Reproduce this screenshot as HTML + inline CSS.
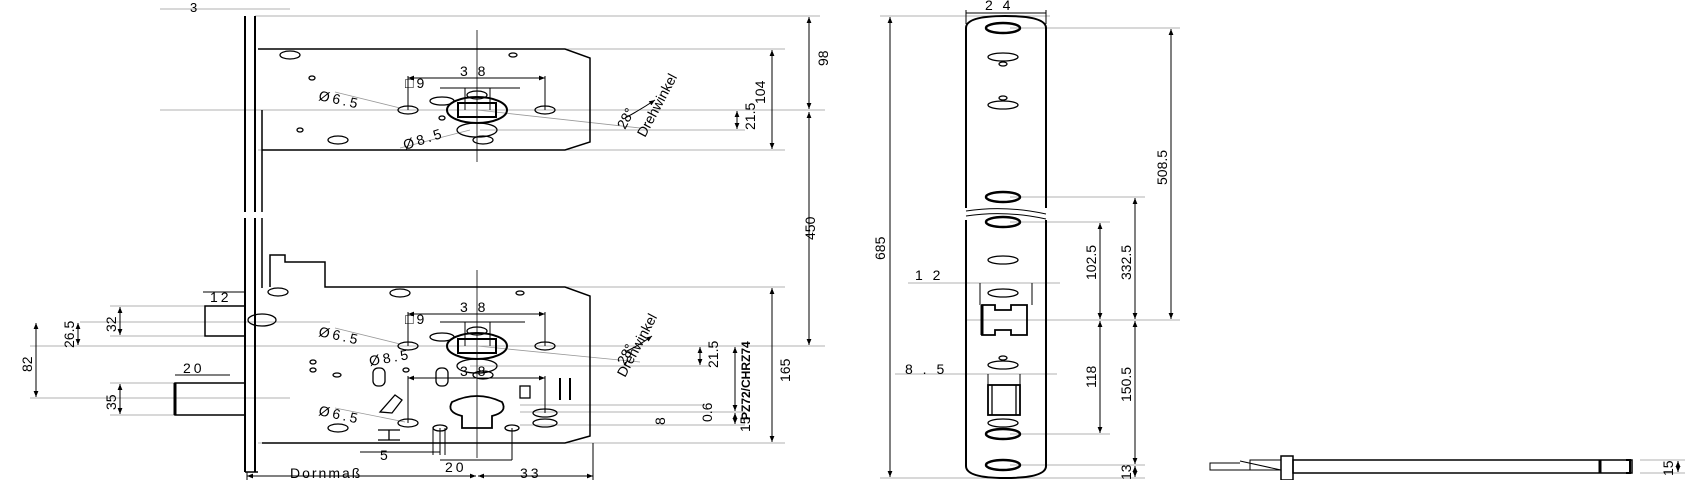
<!DOCTYPE html>
<html><head><meta charset="utf-8"><style>
html,body{margin:0;padding:0;background:#fff;width:1690px;height:480px;overflow:hidden}
svg{display:block}
text{font-family:"Liberation Sans",sans-serif;fill:#000}
</style></head><body>
<svg width="1690" height="480" viewBox="0 0 1690 480" xmlns="http://www.w3.org/2000/svg">
<defs>
<marker id="a" viewBox="0 0 10 10" refX="10" refY="5" markerWidth="6" markerHeight="6" orient="auto-start-reverse"><path d="M0,1 L10,5 L0,9z" fill="#000"/></marker>
</defs>
<g stroke="#000" fill="none">
<!-- thin guide lines -->
<g stroke="#999" stroke-width="0.8">
<line x1="255" y1="16" x2="820" y2="16"/>
<line x1="160" y1="9" x2="290" y2="9"/>
<line x1="258" y1="49" x2="785" y2="49"/>
<line x1="160" y1="110" x2="825" y2="110"/>
<line x1="480" y1="130" x2="745" y2="130"/>
<line x1="258" y1="150" x2="785" y2="150"/>
<line x1="330" y1="287" x2="785" y2="287"/>
<line x1="30" y1="346" x2="825" y2="346"/>
<line x1="470" y1="366" x2="710" y2="366"/>
<line x1="110" y1="306" x2="205" y2="306"/>
<line x1="110" y1="336" x2="205" y2="336"/>
<line x1="80" y1="322" x2="330" y2="322"/>
<line x1="30" y1="398" x2="290" y2="398"/>
<line x1="110" y1="383" x2="175" y2="383"/>
<line x1="110" y1="415" x2="175" y2="415"/>
<line x1="520" y1="405" x2="705" y2="405"/>
<line x1="520" y1="412" x2="745" y2="412"/>
<line x1="520" y1="425" x2="745" y2="425"/>
<line x1="258" y1="443" x2="785" y2="443"/>
<line x1="880" y1="16" x2="1050" y2="16"/>
<line x1="880" y1="478" x2="1145" y2="478"/>
<line x1="1010" y1="28" x2="1180" y2="28"/>
<line x1="1010" y1="197" x2="1145" y2="197"/>
<line x1="1010" y1="222" x2="1110" y2="222"/>
<line x1="966" y1="320" x2="1180" y2="320"/>
<line x1="1010" y1="434" x2="1110" y2="434"/>
<line x1="1010" y1="465" x2="1145" y2="465"/>
<line x1="908" y1="283" x2="1060" y2="283"/>
<line x1="895" y1="374" x2="1057" y2="374"/>
<line x1="1640" y1="460" x2="1685" y2="460"/>
<line x1="1640" y1="473" x2="1685" y2="473"/>
<line x1="477" y1="30" x2="477" y2="162" stroke="#000"/>
<line x1="477" y1="270" x2="477" y2="458" stroke="#000"/>
<line x1="477" y1="110" x2="640" y2="128"/>
<line x1="477" y1="346" x2="640" y2="362"/>
<line x1="335" y1="92" x2="400" y2="108"/>
<line x1="400" y1="148" x2="470" y2="130"/>
<line x1="335" y1="328" x2="400" y2="344"/>
<line x1="335" y1="408" x2="405" y2="422"/>
</g>
<!-- faceplate -->
<line x1="245" y1="16" x2="245" y2="212" stroke-width="2"/>
<line x1="255" y1="16" x2="255" y2="212" stroke-width="2"/>
<line x1="245" y1="218" x2="245" y2="472" stroke-width="2"/>
<line x1="255" y1="218" x2="255" y2="472" stroke-width="2"/>
<line x1="245" y1="472" x2="258" y2="472" stroke-width="1.5"/>
<line x1="262" y1="110" x2="262" y2="212" stroke-width="1.5"/>
<line x1="262" y1="218" x2="262" y2="288" stroke-width="1.5"/>
<!-- upper case -->
<path d="M258,49 H565 L590,58 V142 L565,150 H262" stroke-width="1.5"/>
<!-- lower case -->
<path d="M270,287 V255 H285 V262 H325 V287 H565 L590,296 V436 L565,443 H262" stroke-width="1.5"/>
<!-- latch & bolt -->
<path d="M245,306 H205 V336 H245" stroke-width="1.5"/>
<path d="M245,383 H175 V415 H245" stroke-width="1.5"/>
<line x1="175" y1="383" x2="175" y2="415" stroke-width="3"/>
<!-- upper holes -->
<g stroke-width="1.3">
<ellipse cx="290" cy="55" rx="10" ry="4"/><ellipse cx="338" cy="140" rx="10" ry="4"/>
<ellipse cx="312" cy="78" rx="3" ry="2"/><ellipse cx="300" cy="130" rx="3" ry="2"/><ellipse cx="513" cy="55" rx="4" ry="2"/>
<ellipse cx="408" cy="110" rx="10" ry="4"/><ellipse cx="545" cy="110" rx="10" ry="4"/>
<ellipse cx="477" cy="110" rx="30" ry="13" stroke-width="2"/><rect x="458" y="103" width="38" height="14" stroke-width="2"/>
<ellipse cx="477" cy="95" rx="10" ry="4"/><ellipse cx="442" cy="101" rx="12" ry="4"/>
<ellipse cx="477" cy="130" rx="20" ry="7"/><ellipse cx="483" cy="140" rx="10" ry="4"/>
<ellipse cx="442" cy="118" rx="3" ry="2"/>
<!-- lower holes -->
<ellipse cx="278" cy="292" rx="10" ry="4"/><ellipse cx="400" cy="293" rx="10" ry="4"/><ellipse cx="520" cy="293" rx="4" ry="2"/>
<ellipse cx="262" cy="320" rx="14" ry="6"/><ellipse cx="408" cy="346" rx="10" ry="4"/><ellipse cx="545" cy="346" rx="10" ry="4"/>
<ellipse cx="477" cy="346" rx="30" ry="13" stroke-width="2"/><rect x="458" y="339" width="38" height="14" stroke-width="2"/>
<ellipse cx="477" cy="331" rx="10" ry="4"/><ellipse cx="442" cy="337" rx="12" ry="4"/>
<ellipse cx="477" cy="366" rx="20" ry="7"/><ellipse cx="483" cy="375" rx="10" ry="4"/>
<ellipse cx="313" cy="362" rx="3" ry="2"/><ellipse cx="313" cy="370" rx="3" ry="2"/><ellipse cx="337" cy="375" rx="4" ry="2"/>
<rect x="373" y="368" width="12" height="18" rx="5"/><rect x="436" y="368" width="12" height="18" rx="5"/>
<ellipse cx="406" cy="370" rx="3" ry="2"/>
<path d="M452,402 Q477,390 502,402 Q508,412 492,416 V428 H462 V416 Q446,412 452,402Z" stroke-width="1.8"/>
<ellipse cx="408" cy="423" rx="10" ry="4"/><ellipse cx="440" cy="428" rx="7" ry="3"/><ellipse cx="512" cy="428" rx="7" ry="3"/>
<ellipse cx="545" cy="413" rx="12" ry="4"/><ellipse cx="545" cy="423" rx="12" ry="4"/>
<ellipse cx="338" cy="428" rx="10" ry="4"/>
<rect x="520" y="386" width="10" height="12"/>
<line x1="560" y1="378" x2="560" y2="400" stroke-width="2"/><line x1="570" y1="378" x2="570" y2="400" stroke-width="2"/>
<path d="M380,412 L395,395 L402,400 L392,413Z"/>
<path d="M378,430 H400 M378,440 H400 M389,430 V440"/>
</g>
<!-- strike plate -->
<path d="M966,208 V28 Q966,16 1005,16 Q1046,16 1046,28 V208" stroke-width="2"/>
<path d="M966,220 V466 Q966,478 1005,478 Q1046,478 1046,466 V220" stroke-width="2"/>
<path d="M966,211 Q1005,205 1046,214" stroke-width="1"/>
<path d="M966,216 Q1005,210 1046,219" stroke-width="1"/>
<g stroke-width="1.3">
<ellipse cx="1003" cy="28" rx="17" ry="5" stroke-width="2.5"/>
<ellipse cx="1003" cy="57" rx="15" ry="4"/><ellipse cx="1003" cy="64" rx="4" ry="2"/>
<ellipse cx="1003" cy="105" rx="15" ry="4"/><ellipse cx="1003" cy="98" rx="4" ry="2"/>
<ellipse cx="1003" cy="197" rx="17" ry="5" stroke-width="2.5"/>
<ellipse cx="1003" cy="222" rx="17" ry="5" stroke-width="2.5"/>
<ellipse cx="1003" cy="260" rx="15" ry="4"/>
<ellipse cx="1003" cy="293" rx="15" ry="4"/>
<path d="M982,305 H995 V310 H1011 V305 H1027 V335 H1011 V330 H995 V335 H982Z" stroke-width="1.8"/>
<line x1="982" y1="305" x2="982" y2="335" stroke-width="3"/>
<ellipse cx="1003" cy="365" rx="15" ry="4"/><ellipse cx="1003" cy="358" rx="4" ry="2"/>
<rect x="988" y="385" width="32" height="30" stroke-width="1.8"/>
<line x1="992" y1="385" x2="992" y2="415"/><line x1="1016" y1="385" x2="1016" y2="415"/>
<ellipse cx="1003" cy="423" rx="15" ry="4"/>
<ellipse cx="1003" cy="434" rx="17" ry="5" stroke-width="2.5"/>
<ellipse cx="1003" cy="465" rx="17" ry="5" stroke-width="2.5"/>
</g>
<!-- bottom right side view -->
<rect x="1293" y="460" width="339" height="13" stroke-width="1.5"/>
<rect x="1281" y="456" width="12" height="24" stroke-width="1.5"/>
<path d="M1240,463 H1210 V470 H1281 L1240,461 M1250,470 V460 H1281"/>
<line x1="1600" y1="460" x2="1600" y2="473" stroke-width="3"/>
<path d="M1626,460 H1630 V473 H1626" stroke-width="2"/>
<!-- dimension lines -->
<g stroke-width="1" marker-start="url(#a)" marker-end="url(#a)">
<line x1="809" y1="17" x2="809" y2="109"/>
<line x1="772" y1="50" x2="772" y2="149"/>
<line x1="737" y1="111" x2="737" y2="129"/>
<line x1="809" y1="112" x2="809" y2="345"/>
<line x1="772" y1="288" x2="772" y2="442"/>
<line x1="700" y1="347" x2="700" y2="365"/>
<line x1="735" y1="347" x2="735" y2="411"/>
<line x1="735" y1="413" x2="735" y2="424"/>
<line x1="36" y1="323" x2="36" y2="397"/>
<line x1="78" y1="323" x2="78" y2="345"/>
<line x1="120" y1="307" x2="120" y2="335"/>
<line x1="120" y1="384" x2="120" y2="414"/>
<line x1="890" y1="17" x2="890" y2="477"/>
<line x1="1171" y1="29" x2="1171" y2="319"/>
<line x1="1135" y1="198" x2="1135" y2="319"/>
<line x1="1100" y1="223" x2="1100" y2="319"/>
<line x1="1100" y1="321" x2="1100" y2="433"/>
<line x1="1135" y1="321" x2="1135" y2="464"/>
<line x1="1135" y1="466" x2="1135" y2="477"/>
<line x1="1678" y1="461" x2="1678" y2="472"/>
<line x1="247" y1="476" x2="476" y2="476"/>
<line x1="478" y1="476" x2="593" y2="476"/>
<line x1="408" y1="78" x2="545" y2="78"/>
<line x1="408" y1="314" x2="545" y2="314"/>
<line x1="408" y1="378" x2="545" y2="378"/>
</g>
<line x1="408" y1="76" x2="408" y2="110" stroke-width="1"/><line x1="545" y1="76" x2="545" y2="110" stroke-width="1"/>
<line x1="465" y1="88" x2="465" y2="110" stroke-width="1"/><line x1="490" y1="88" x2="490" y2="110" stroke-width="1"/>
<line x1="440" y1="88" x2="520" y2="88" stroke-width="1"/>
<line x1="408" y1="312" x2="408" y2="346" stroke-width="1"/><line x1="545" y1="312" x2="545" y2="346" stroke-width="1"/>
<line x1="465" y1="322" x2="465" y2="346" stroke-width="1"/><line x1="490" y1="322" x2="490" y2="346" stroke-width="1"/>
<line x1="440" y1="322" x2="525" y2="322" stroke-width="1"/>
<line x1="408" y1="376" x2="408" y2="423" stroke-width="1"/><line x1="545" y1="376" x2="545" y2="413" stroke-width="1"/>
<line x1="433" y1="428" x2="433" y2="455" stroke-width="1"/><line x1="445" y1="428" x2="445" y2="455" stroke-width="1"/>
<line x1="440" y1="428" x2="440" y2="455" stroke-width="1"/><line x1="512" y1="428" x2="512" y2="460" stroke-width="1"/>
<line x1="360" y1="452" x2="440" y2="452" stroke-width="1"/><line x1="440" y1="460" x2="512" y2="460" stroke-width="1"/>
<line x1="593" y1="443" x2="593" y2="480" stroke-width="1"/><line x1="247" y1="472" x2="247" y2="480" stroke-width="1"/>
<line x1="203" y1="292" x2="245" y2="292" stroke-width="1"/>
<line x1="175" y1="375" x2="230" y2="375" stroke-width="1"/>
<line x1="980" y1="283" x2="980" y2="305" stroke-width="1"/><line x1="1032" y1="283" x2="1032" y2="305" stroke-width="1"/>
<line x1="988" y1="374" x2="988" y2="385" stroke-width="1"/><line x1="1020" y1="374" x2="1020" y2="385" stroke-width="1"/>
<line x1="966" y1="10" x2="966" y2="24" stroke-width="1"/><line x1="1046" y1="10" x2="1046" y2="24" stroke-width="1"/>
<line x1="966" y1="13" x2="1046" y2="13" stroke-width="1"/>
<path d="M625,118 Q640,110 655,100" stroke-width="1" marker-end="url(#a)"/>
<path d="M625,352 Q640,345 652,336" stroke-width="1" marker-end="url(#a)"/>
</g>
<!-- texts -->
<g font-size="14" letter-spacing="3">
<text x="190" y="12" font-size="13">3</text>
<text x="460" y="76">3 8</text>
<text x="460" y="312">3 8</text>
<text x="460" y="376">3 8</text>
<text x="405" y="88">□9</text>
<text x="405" y="324">□9</text>
<text x="318" y="100" transform="rotate(12 318 100)">Ø6.5</text>
<text x="405" y="150" transform="rotate(-18 405 150)">Ø8.5</text>
<text x="318" y="336" transform="rotate(12 318 336)">Ø6.5</text>
<text x="370" y="366" transform="rotate(-10 370 366)">Ø8.5</text>
<text x="318" y="415" transform="rotate(12 318 415)">Ø6.5</text>
<text x="210" y="302">12</text>
<text x="183" y="373">20</text>
<text x="380" y="460">5</text>
<text x="445" y="472">20</text>
<text x="290" y="478" letter-spacing="2">Dornmaß</text>
<text x="520" y="478">33</text>
<text x="915" y="280">1 2</text>
<text x="905" y="374">8 . 5</text>
<text x="985" y="10">2 4</text>
</g>
<g font-size="14" font-family="Liberation Sans Narrow,Liberation Sans,sans-serif">
<text transform="translate(828,66) rotate(-90)">98</text>
<text transform="translate(765,104) rotate(-90)">104</text>
<text transform="translate(755,130) rotate(-90)">21.5</text>
<text transform="translate(815,240) rotate(-90)">450</text>
<text transform="translate(790,382) rotate(-90)">165</text>
<text transform="translate(718,368) rotate(-90)">21.5</text>
<text transform="translate(750,420) rotate(-90)" font-weight="bold" font-size="12">PZ72/CHRZ74</text>
<text transform="translate(750,432) rotate(-90)">15</text>
<text transform="translate(712,422) rotate(-90)">0.6</text>
<text transform="translate(665,425) rotate(-90)">8</text>
<text transform="translate(32,372) rotate(-90)">82</text>
<text transform="translate(74,348) rotate(-90)">26.5</text>
<text transform="translate(116,332) rotate(-90)">32</text>
<text transform="translate(116,410) rotate(-90)">35</text>
<text transform="translate(885,260) rotate(-90)">685</text>
<text transform="translate(1167,185) rotate(-90)">508.5</text>
<text transform="translate(1131,280) rotate(-90)">332.5</text>
<text transform="translate(1096,280) rotate(-90)">102.5</text>
<text transform="translate(1096,388) rotate(-90)">118</text>
<text transform="translate(1131,402) rotate(-90)">150.5</text>
<text transform="translate(1131,480) rotate(-90)">13</text>
<text transform="translate(1673,476) rotate(-90)">15</text>
<text transform="translate(625,130) rotate(-62)">28°</text>
<text transform="translate(645,138) rotate(-62)">Drehwinkel</text>
<text transform="translate(625,366) rotate(-62)">28°</text>
<text transform="translate(625,378) rotate(-62)">Drehwinkel</text>
</g>
</svg>
</body></html>
